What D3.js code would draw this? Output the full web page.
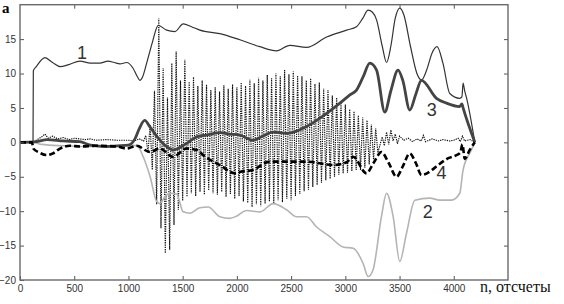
<!DOCTYPE html>
<html><head><meta charset="utf-8">
<script src="https://cdn.jsdelivr.net/npm/d3@7"></script>
<style>body{margin:0;background:#fff}svg{display:block}</style>
</head><body><svg id="c" width="564" height="304"></svg>
<script>
// ---- data ----
const xTicks = [0,500,1000,1500,2000,2500,3000,3500,4000];
const yTicks = [-20,-15,-10,-5,0,5,10,15];
const xDomain = [0,4500];
const yDomain = [-20,20];

const series1 = [[0,0],[120,0],[123,10.4],[150,11.0],[230,12.3],[300,11.6],[369,11.0],[450,11.3],[553,11.8],[650,11.5],[737,11.5],[811,11.8],[870,11.6],[922,11.4],[983,11.6],[1041,10.8],[1080,9.6],[1106,9.0],[1130,9.5],[1168,11.5],[1220,14.5],[1275,17.0],[1352,16.3],[1429,16.1],[1505,17.2],[1582,16.8],[1659,16.3],[1843,15.8],[2028,14.9],[2212,13.9],[2366,13.3],[2488,14.1],[2642,13.8],[2827,15.3],[3011,16.3],[3103,16.8],[3160,18.0],[3210,19.2],[3250,18.9],[3288,17.8],[3340,14.0],[3380,11.6],[3420,14.0],[3460,18.0],[3502,19.5],[3540,18.5],[3600,14.0],[3660,10.0],[3702,9.05],[3750,10.5],[3800,13.0],[3846,13.9],[3900,11.5],[3963,7.1],[4055,6.4],[4075,6.6],[4086,8.6],[4100,7.5],[4117,6.5],[4194,0]];

const series2 = [[0,0],[120,0],[200,-0.3],[400,-0.5],[600,-0.6],[800,-0.6],[1000,-0.4],[1080,-0.5],[1136,-2.1],[1200,-5.0],[1260,-8.6],[1290,-8.9],[1340,-7.8],[1382,-7.4],[1444,-7.5],[1505,-10.1],[1567,-10.3],[1659,-9.5],[1735,-9.4],[1843,-10.8],[1935,-11.05],[2000,-10.7],[2089,-9.9],[2212,-10.1],[2335,-8.9],[2458,-9.8],[2550,-10.8],[2642,-10.8],[2735,-12.3],[2857,-13.7],[2980,-15.2],[3072,-15.4],[3164,-17.6],[3210,-19.5],[3256,-18.5],[3333,-10.8],[3380,-7.4],[3441,-10.8],[3502,-17.3],[3564,-13.2],[3641,-8.4],[3779,-8.1],[3871,-8.4],[3979,-8.4],[4055,-7.4],[4086,-4.0],[4163,-1.1],[4194,0]];

const series3 = [[0,0],[150,0.1],[250,0.4],[400,0.2],[550,0.1],[650,-0.4],[800,-0.6],[900,-0.5],[1000,-0.4],[1060,0.5],[1100,2.0],[1150,3.2],[1200,2.2],[1280,0.5],[1350,-0.6],[1410,-1.1],[1536,-0.15],[1629,0.8],[1720,1.06],[1843,1.4],[1930,1.2],[2028,1.06],[2147,0.3],[2240,0.9],[2335,1.5],[2458,1.3],[2642,2.3],[2827,4.2],[2950,5.7],[3042,6.9],[3103,7.6],[3164,9.5],[3226,11.5],[3288,10.5],[3364,4.4],[3420,7.5],[3486,10.5],[3530,9.0],[3594,4.7],[3650,7.0],[3702,9.0],[3840,6.4],[3932,5.7],[4055,5.2],[4075,5.6],[4086,5.0],[4194,0]];

const series4 = [[0,0],[110,0],[123,-0.9],[180,-1.5],[246,-1.85],[304,-1.6],[369,-0.9],[461,-0.5],[553,-0.6],[700,-0.5],[891,-0.6],[983,-0.9],[1075,-0.5],[1198,-1.4],[1290,-0.9],[1410,-2.1],[1536,-0.9],[1629,-1.1],[1700,-2.0],[1843,-3.3],[1982,-4.5],[2028,-4.3],[2147,-4.0],[2304,-2.8],[2458,-2.8],[2642,-2.8],[2885,-3.3],[3011,-2.9],[3072,-2.1],[3195,-4.5],[3260,-3.0],[3333,-1.4],[3400,-3.0],[3472,-5.0],[3530,-3.5],[3594,-1.6],[3650,-3.0],[3702,-4.75],[3800,-4.0],[3840,-3.5],[3950,-2.3],[4025,-1.85],[4060,-1.5],[4080,-0.3],[4101,-2.4],[4147,-1.1],[4194,0]];

const noiseHead = [[0,0],[120,0],[150,0.3],[200,0.8],[230,1.2],[260,0.6],[300,0.9],[350,0.5],[400,0.7],[450,0.4],[500,0.6],[550,0.5],[600,0.4],[650,0.5],[700,0.3],[800,0.4],[900,0.3],[1000,0.3],[1050,0.2],[1100,0.5],[1140,0.2]];
const noiseTopN = [1160,1200,1240,1280,1320,1360,1400,1440,1480,1520,1560,1600,1640,1680,1720,1760,1800,1840,1880,1920,1960,2000,2040,2080,2120,2160,2200,2240,2280,2320,2360,2400,2440,2480,2520,2560,2600,2640,2680,2720,2760,2800,2840,2880,2920,2960,3000,3040,3080,3120,3160,3200,3240,3280];
const noiseTopV = [1.0,2.5,7.5,18.0,10.8,6.5,11.5,13.2,9.0,12.0,8.8,9.5,8.2,9.0,8.4,7.6,8.0,7.4,8.3,7.8,8.4,8.0,8.7,8.2,9.1,8.6,9.4,9.0,9.8,9.3,10.0,9.6,10.5,9.9,10.3,9.7,9.6,9.0,9.3,8.5,8.7,7.8,7.6,6.8,6.5,5.8,5.5,4.8,4.5,3.9,3.6,3.2,2.6,2.0];
const noiseBotN = [1180,1220,1260,1300,1340,1380,1420,1460,1500,1540,1580,1620,1660,1700,1740,1780,1820,1860,1900,1940,1980,2020,2060,2100,2140,2180,2220,2260,2300,2340,2380,2420,2460,2500,2540,2580,2620,2660,2700,2740,2780,2820,2860,2900,2940,2980,3020,3060,3100,3140,3180,3220,3260,3300];
const noiseBotV = [-1.5,-4.0,-9.0,-12.5,-16.1,-15.6,-12.0,-9.8,-8.5,-7.9,-7.4,-7.8,-7.2,-7.6,-7.0,-7.4,-7.6,-7.2,-7.9,-7.5,-8.2,-7.8,-8.6,-8.8,-9.4,-9.0,-9.3,-8.9,-8.6,-8.9,-8.4,-8.7,-8.2,-8.4,-7.8,-7.5,-7.1,-6.9,-6.5,-6.2,-5.9,-5.5,-5.3,-5.0,-4.7,-4.5,-4.4,-4.2,-4.0,-4.0,-3.7,-3.2,-2.5,-1.5];
const noiseTail = [[3340,0.8],[3360,-0.5],[3380,1.5],[3400,-0.3],[3420,1.8],[3440,0.2],[3460,1.2],[3480,-0.2],[3500,0.9],[3540,0.3],[3580,0.6],[3620,0.1],[3660,0.5],[3700,0.2],[3720,1.0],[3740,0.1],[3800,0.5],[3860,0.2],[3900,0.4],[3960,0.2],[4000,0.3],[4040,0.6],[4060,0.1],[4080,0.9],[4100,0.2],[4150,0.4],[4194,0]];

const curveLabels = [{t:"1",n:571,v:13.0},{t:"2",n:3760,v:-10.1},{t:"3",n:3797,v:4.7},{t:"4",n:3887,v:-4.5}];

// ---- build ----
const svg = d3.select("#c");
const x = d3.scaleLinear().domain(xDomain).range([20,508]);
const y = d3.scaleLinear().domain(yDomain).range([280,4.7]);

const noise = noiseHead.slice();
noiseTopN.forEach((n,i)=>{ noise.push([n,noiseTopV[i]]); noise.push([noiseBotN[i],noiseBotV[i]]); });
noiseTail.forEach(p=>noise.push(p));

svg.append("clipPath").attr("id","clip").append("rect")
  .attr("x",20).attr("y",4.7).attr("width",488).attr("height",275.3);

const line = d3.line().x(d=>x(d[0])).y(d=>y(d[1])).curve(d3.curveMonotoneX);
const lineL = d3.line().x(d=>x(d[0])).y(d=>y(d[1]));
const g = svg.append("g").attr("clip-path","url(#clip)");

g.append("path").datum(noise).attr("d",lineL).attr("fill","none")
  .attr("stroke","#111").attr("stroke-width",1.15).attr("stroke-dasharray","1.3,1");
g.append("path").datum(series2).attr("d",line).attr("fill","none")
  .attr("stroke","#b4b4b4").attr("stroke-width",1.6);
g.append("path").datum(series1).attr("d",line).attr("fill","none")
  .attr("stroke","#333").attr("stroke-width",1.2);
g.append("path").datum(series3).attr("d",line).attr("fill","none")
  .attr("stroke","#444").attr("stroke-width",2.8);
g.append("path").datum(series4).attr("d",line).attr("fill","none")
  .attr("stroke","#000").attr("stroke-width",2.6).attr("stroke-dasharray","6,3");

// axes
const tf = "'Liberation Sans', Arial, sans-serif";
const sf = "'Liberation Serif', 'Times New Roman', serif";
const ax = (gen)=>gen.tickSizeOuter(0);
const gb = svg.append("g").attr("transform","translate(0,280)")
  .call(ax(d3.axisBottom(x).tickValues(xTicks).tickSizeInner(-4).tickPadding(5).tickFormat(d3.format("d"))));
const gl = svg.append("g").attr("transform","translate(20,0)")
  .call(ax(d3.axisLeft(y).tickValues(yTicks).tickSizeInner(-4).tickPadding(4).tickFormat(d3.format("d"))));
const gt = svg.append("g").attr("transform","translate(0,4.7)")
  .call(ax(d3.axisTop(x).tickValues(xTicks.slice(1)).tickSizeInner(-4).tickFormat("")));
const gr = svg.append("g").attr("transform","translate(508,0)")
  .call(ax(d3.axisRight(y).tickValues(yTicks.slice(1)).tickSizeInner(-4).tickFormat("")));
[gb,gl,gt,gr].forEach(a=>{
  a.select(".domain").remove();
  a.selectAll("line").attr("stroke","#555");
  a.selectAll("text").attr("font-family",tf).attr("font-size",10).attr("fill","#333");
});
svg.append("rect").attr("x",20).attr("y",4.7).attr("width",488).attr("height",275.3)
  .attr("fill","none").attr("stroke","#6a6a6a").attr("stroke-width",1.4);

// labels
svg.selectAll(".cl").data(curveLabels).enter().append("text")
  .attr("x",d=>x(d.n)).attr("y",d=>y(d.v)).attr("text-anchor","middle")
  .attr("dominant-baseline","central")
  .attr("font-family",tf).attr("font-size",18).attr("fill","#333").text(d=>d.t);

svg.append("text").attr("x",2).attr("y",13).attr("font-family",sf)
  .attr("font-weight","bold").attr("font-size",15).text("a");
svg.append("text").attr("x",480).attr("y",292).attr("font-family",sf)
  .attr("font-size",16).attr("fill","#111").text("n, отсчеты");
</script></body></html>
